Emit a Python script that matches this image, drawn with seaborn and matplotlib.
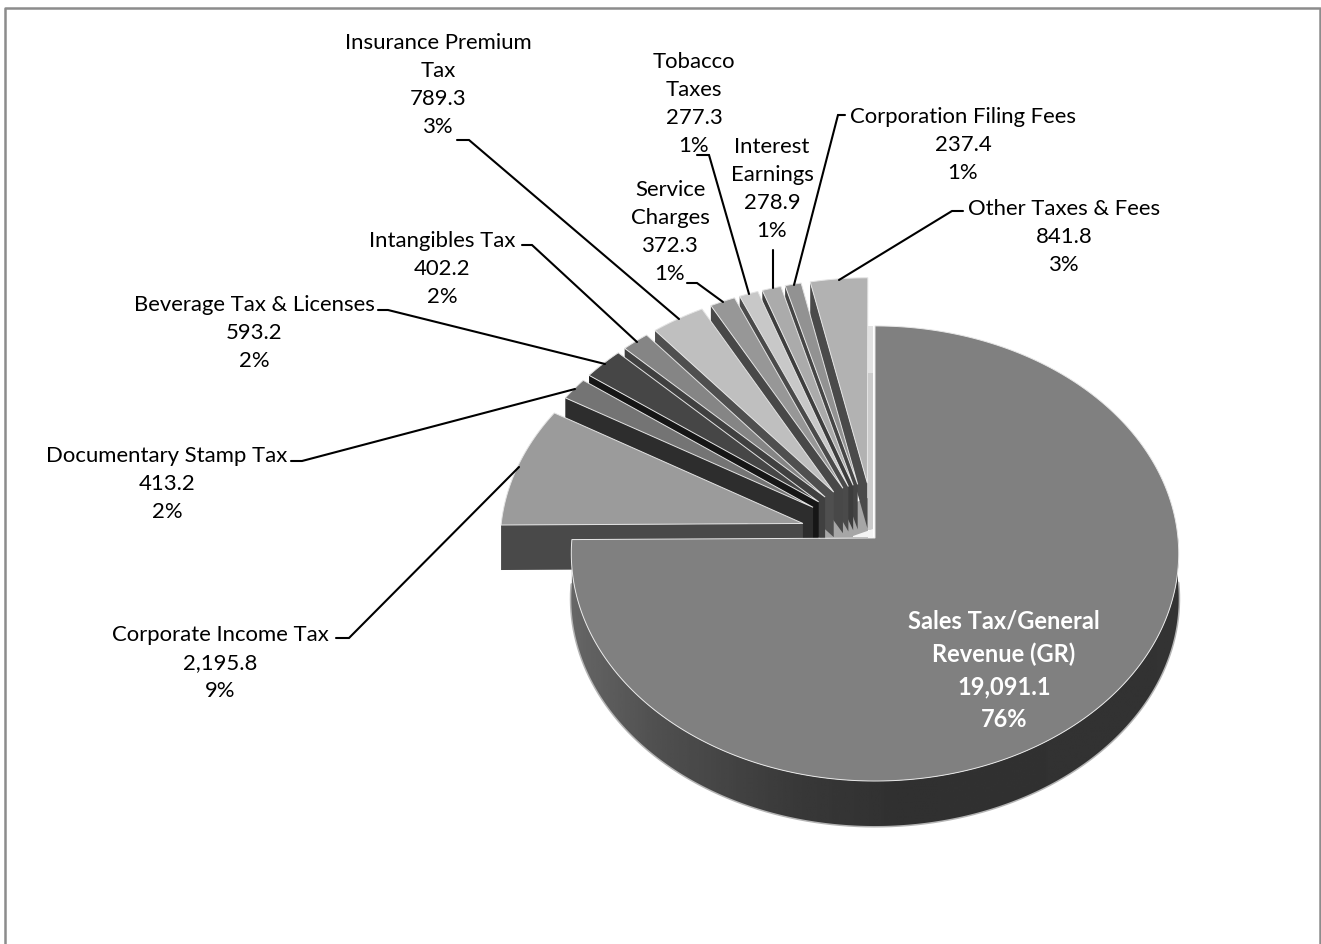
import numpy as np
import matplotlib
matplotlib.use("Agg")
import matplotlib.pyplot as plt
from matplotlib.patches import Polygon
import seaborn as sns

# Revenue sources, clockwise from twelve o'clock
categories = ["Sales Tax/General\nRevenue (GR)", "Corporate Income Tax", "Documentary Stamp Tax",
              "Beverage Tax & Licenses", "Intangibles Tax", "Insurance Premium\nTax",
              "Service\nCharges", "Tobacco\nTaxes", "Interest\nEarnings",
              "Corporation Filing Fees", "Other Taxes & Fees"]
values = [19091.1, 2195.8, 413.2, 593.2, 402.2, 789.3, 372.3, 277.3, 278.9, 237.4, 841.8]
value_labels = ["19,091.1", "2,195.8", "413.2", "593.2", "402.2", "789.3", "372.3", "277.3", "278.9", "237.4", "841.8"]
percent_labels = ["76%", "9%", "2%", "2%", "2%", "3%", "1%", "1%", "1%", "1%", "3%"]

top_shades = ["#808080", "#9b9b9b", "#747474", "#464646", "#858585", "#bfbfbf",
              "#979797", "#c8c8c8", "#ababab", "#929292", "#b2b2b2"]
wall_shades = ["#333333", "#494949", "#2d2d2d", "#161616", "#404040", "#4f4f4f",
               "#484848", "#4a4a4a", "#3d3d3d", "#454545", "#4a4a4a"]

# Label block centres and leader polylines, in figure pixels
label_xy = [(1004, 670), (220, 663), (167, 484), (254, 333), (442, 269), (438, 85),
            (670, 232), (694, 104), (772, 189), (963, 145), (1064, 237)]
leaders = [None,
           [(336, 638), (349, 638), (519, 467)],
           [(291, 461), (302, 461), (575, 389)],
           [(378, 310), (388, 310), (605, 364)],
           [(522, 245), (532, 245), (637, 342)],
           [(457, 140), (469, 140), (679, 319)],
           [(687, 283), (697, 283), (723, 302)],
           [(697, 155), (709, 155), (749, 294)],
           [(773, 250), (773, 288)],
           [(845, 115), (838, 115), (794, 285)],
           [(963, 211), (952, 211), (839, 280)]]

# Perspective projection of the tilted pie onto the page
CX, CY = 875.0, 538.0
RX, RY = 303.0, 226.5
PERSPECTIVE = 0.068
DEPTH = 45.0
EXPLODE = 0.2475

sns.set_theme(style="white")
plt.rcParams["font.family"] = ["Lato", "DejaVu Sans"]

fig = plt.figure(figsize=(13.21, 9.44), dpi=100, facecolor="white")
ax = fig.add_axes([0, 0, 1, 1])


def project(u, v):
    """Point on the pie disc (u to the right, v to the back) to page pixels."""
    w = 1 + PERSPECTIVE * v
    return CX + RX * u / w, CY - RY * v / w


fractions = np.array(values) / np.sum(values)
edges = np.concatenate([[0], np.cumsum(fractions)]) * 2 * np.pi

# Backing for the narrow gaps where the slice walls converge
ax.fill([CX - 60, CX - 7, CX - 7, CX - 60], [CY - 22, CY - 40, CY, CY], color="#a6a6a6", lw=0, zorder=1)

# Exploded slices, back to front, so each one covers its neighbour's wall
for i in range(len(values) - 1, 0, -1):
    start, stop = edges[i], edges[i + 1]
    mid = 0.5 * (start + stop)
    ou, ov = EXPLODE * np.sin(mid), EXPLODE * np.cos(mid)
    t = np.linspace(start, stop, 40)
    px, py = project(ou + np.sin(t), ov + np.cos(t))
    ox, oy = project(ou, ov)
    # cut face on the leading edge
    ax.fill([ox, px[0], px[0], ox], [oy, py[0], py[0] + DEPTH, oy + DEPTH],
            color=wall_shades[i], lw=0, zorder=2)
    ax.fill(np.r_[ox, px], np.r_[oy, py], facecolor=top_shades[i],
            edgecolor="#e4e4e4", lw=0.7, zorder=2, joinstyle="miter")

# Soft light sliver behind the back rim of the large slice
ax.fill([CX - 7, CX - 2, CX - 2, CX - 7], [CY - 212, CY - 212, CY - 165, CY - 165], color="#e2e2e2", lw=0, zorder=2)
ax.fill([CX - 7, CX - 2, CX - 2, CX - 7], [CY - 165, CY - 165, CY - 8, CY - 8], color="#cbcbcb", lw=0, zorder=2)
ax.fill([CX - 22, CX - 2, CX - 2, CX - 22], [CY - 2, CY - 9, CY - 1, CY - 1], color="#f4f4f4", lw=0, zorder=2.2)

# Rim of the large slice, shaded from the left along its width
start, stop = edges[0], edges[1]
rim = np.linspace(np.pi / 2, stop, 240)
rx, ry = project(np.sin(rim), np.cos(rim))
outline = np.c_[np.r_[rx, rx[::-1]], np.r_[ry, ry[::-1] + DEPTH]]
ax.plot(rx, ry + DEPTH, color="#b4b4b4", lw=2.2, zorder=2.5)
clip = Polygon(outline, transform=ax.transData, facecolor="none", edgecolor="none")
ax.add_patch(clip)
grid_x = np.linspace(560, 1190, 256)
shade = np.interp(grid_x, [571, 660, 800, 900, 1178], [0.40, 0.31, 0.22, 0.19, 0.20])
image = ax.imshow(shade[None, :], cmap="gray", vmin=0, vmax=1, aspect="auto",
                  extent=(560, 1190, 840, 530), interpolation="bilinear", zorder=3)
image.set_clip_path(clip)

# Top of the large slice
t = np.linspace(start, stop, 300)
px, py = project(np.sin(t), np.cos(t))
ax.fill(np.r_[CX, px], np.r_[CY, py], facecolor=top_shades[0],
        edgecolor="#e8e8e8", lw=0.7, zorder=4, joinstyle="miter")

# Labels and leader lines
for i, name in enumerate(categories):
    x, y = label_xy[i]
    text = f"{name}\n{value_labels[i]}\n{percent_labels[i]}"
    if i == 0:
        ax.text(x, y, text, ha="center", va="center", multialignment="center", color="white",
                fontsize=17, fontweight="bold", linespacing=1.5, zorder=6)
    else:
        ax.text(x, y, text, ha="center", va="center", multialignment="center", color="black",
                fontsize=15.9, linespacing=1.5, zorder=6)
        lx, ly = zip(*leaders[i])
        ax.plot(lx, ly, color="black", lw=1.5, zorder=5, solid_joinstyle="miter")

# Chart area border
ax.plot([5, 5, 1319.5, 1319.5], [944, 7.5, 7.5, 944], color="#8c8c8c", lw=1.8, zorder=7)

ax.set_xlim(0, 1321)
ax.set_ylim(944, 0)
ax.axis("off")

fig.savefig("out.png", dpi=100, facecolor="white")
